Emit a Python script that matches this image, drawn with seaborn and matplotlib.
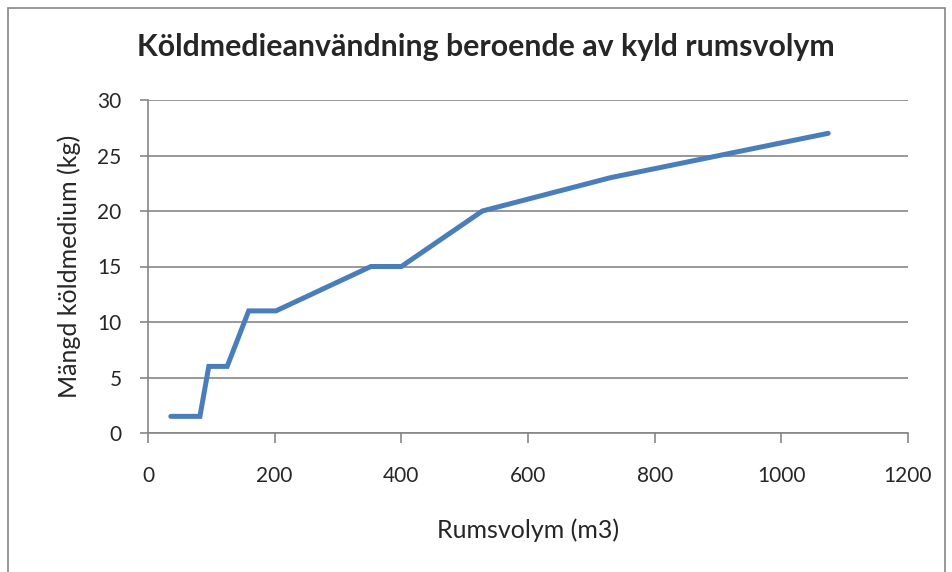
import seaborn as sns
import matplotlib.pyplot as plt
import pandas as pd
from matplotlib.patches import Rectangle

rumsvolym = [36, 82, 96, 125, 159, 202, 352, 400, 528, 730, 1074]
koldmedium = [1.5, 1.5, 6, 6, 11, 11, 15, 15, 20, 23, 27]
x_ticks = [0, 200, 400, 600, 800, 1000, 1200]
y_ticks = [0, 5, 10, 15, 20, 25, 30]

df = pd.DataFrame({'Rumsvolym': rumsvolym, 'Mängd': koldmedium})

sns.set_style('white')
plt.rcParams['font.family'] = ['Lato', 'DejaVu Sans']

grey = '#868686'
fig = plt.figure(figsize=(9.53, 5.72), dpi=100)
ax = fig.add_axes([148/953, 1 - 433/572, 760/953, 333/572])

sns.lineplot(data=df, x='Rumsvolym', y='Mängd', ax=ax, color='#4A7EBB',
             linewidth=3.6, solid_capstyle='round', solid_joinstyle='miter',
             sort=False)

ax.set_xlim(0, 1200)
ax.set_ylim(0, 30)
ax.set_xticks(x_ticks)
ax.set_yticks(y_ticks)
ax.yaxis.grid(True, color=grey, linewidth=1.2)
ax.set_axisbelow(True)

for side in ['top', 'right']:
    ax.spines[side].set_visible(False)
for side in ['left', 'bottom']:
    ax.spines[side].set_color(grey)
    ax.spines[side].set_linewidth(1.2)

ax.tick_params(axis='x', direction='out', length=7, width=1.2, color=grey,
               labelsize=15, pad=17, bottom=True)
ax.tick_params(axis='y', direction='out', length=6, width=1.2, color=grey,
               labelsize=15, pad=13, left=True)

ax.set_xlabel('Rumsvolym (m3)', fontsize=18, labelpad=23)
ax.set_ylabel('Mängd köldmedium (kg)', fontsize=18, labelpad=12)
fig.text(486/953, 1 - 47/572, 'Köldmedieanvändning beroende av kyld rumsvolym',
         fontsize=21.8, fontweight='bold', ha='center', va='center')

fig.patches.append(Rectangle((8/953, -0.1), 937/953, 1.1 - 8/572,
                             transform=fig.transFigure, fill=False,
                             edgecolor=grey, linewidth=1.2))

fig.savefig('out.png', dpi=100)
